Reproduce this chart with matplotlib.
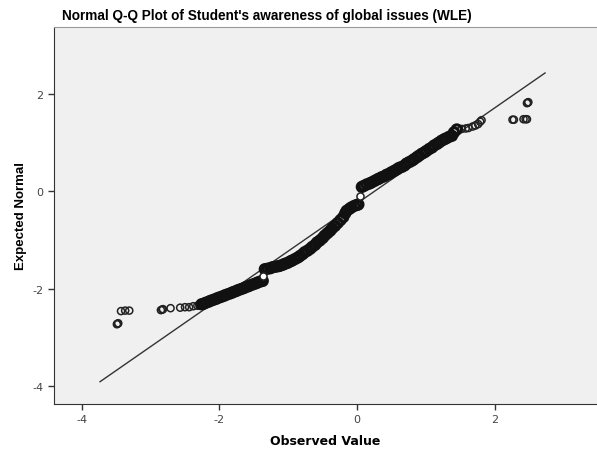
import matplotlib
matplotlib.use("Agg")
import matplotlib.pyplot as plt

plt.rcParams['axes.unicode_minus'] = False

left_obs = [-3.48, -3.49, -3.47, -3.43, -3.37, -3.31, -2.85, -2.83, -2.82, -2.71,
            -2.57, -2.50, -2.44, -2.38, -2.32, -2.29]
left_exp = [-2.72, -2.73, -2.71, -2.46, -2.45, -2.45, -2.44, -2.43, -2.42, -2.40,
            -2.39, -2.38, -2.38, -2.36, -2.35, -2.34]

low_obs = [-2.26, -2.23, -2.20, -2.16, -2.13, -2.09, -2.05, -2.02, -1.98, -1.94,
           -1.91, -1.87, -1.83, -1.80, -1.76, -1.73, -1.69, -1.65, -1.62, -1.58,
           -1.55, -1.51, -1.47, -1.44, -1.40, -1.37]
low_exp = [-2.32, -2.31, -2.29, -2.27, -2.25, -2.23, -2.21, -2.19, -2.17, -2.15,
           -2.13, -2.11, -2.09, -2.07, -2.05, -2.03, -2.01, -1.99, -1.97, -1.95,
           -1.93, -1.91, -1.89, -1.87, -1.85, -1.84]

mid_obs = [-1.34, -1.30, -1.26, -1.23, -1.19, -1.15, -1.12, -1.08, -1.05, -1.01,
           -0.97, -0.94, -0.90, -0.86, -0.83, -0.79, -0.76, -0.72, -0.68, -0.65,
           -0.61, -0.58, -0.54, -0.50, -0.47, -0.43, -0.39, -0.36, -0.32, -0.28,
           -0.24, -0.20, -0.17, -0.15, -0.11, -0.08, -0.04, 0.00, 0.02]
mid_exp = [-1.60, -1.59, -1.58, -1.56, -1.55, -1.54, -1.53, -1.51, -1.49, -1.47,
           -1.44, -1.42, -1.39, -1.36, -1.33, -1.29, -1.25, -1.22, -1.18, -1.14,
           -1.10, -1.05, -1.01, -0.96, -0.91, -0.86, -0.81, -0.76, -0.71, -0.65,
           -0.59, -0.53, -0.45, -0.40, -0.36, -0.33, -0.30, -0.28, -0.27]

up_obs = [0.07, 0.10, 0.14, 0.18, 0.21, 0.25, 0.29, 0.32, 0.36, 0.40,
          0.43, 0.47, 0.50, 0.54, 0.58, 0.61, 0.65, 0.69, 0.72, 0.76,
          0.80, 0.83, 0.87, 0.90, 0.94, 0.98, 1.01, 1.05, 1.09, 1.12,
          1.16, 1.19, 1.23, 1.27, 1.30, 1.34, 1.38, 1.41, 1.45]
up_exp = [0.09, 0.11, 0.14, 0.16, 0.18, 0.21, 0.24, 0.26, 0.29, 0.31,
          0.34, 0.36, 0.39, 0.42, 0.45, 0.48, 0.50, 0.53, 0.57, 0.60,
          0.63, 0.66, 0.70, 0.73, 0.77, 0.80, 0.83, 0.87, 0.90, 0.94,
          0.97, 1.00, 1.04, 1.07, 1.09, 1.12, 1.14, 1.21, 1.27]

right_obs = [1.52, 1.58, 1.62, 1.68, 1.72, 1.76, 1.79, 1.81,
             2.26, 2.28, 2.42, 2.45, 2.47, 2.48, 2.49, 2.47]
right_exp = [1.28, 1.29, 1.30, 1.33, 1.35, 1.38, 1.43, 1.46,
             1.47, 1.47, 1.48, 1.48, 1.48, 1.82, 1.83, 1.81]

# points sitting on the jumps (drawn white inside)
gap_obs = [-1.37, 0.05]
gap_exp = [-1.73, -0.09]

# reference line endpoints
line_obs = [-3.735, 2.733]
line_exp = [-3.91, 2.43]

fig = plt.figure(figsize=(5.97, 4.52), dpi=100)
ax = fig.add_axes([54 / 597, 47 / 452, 543 / 597, 377 / 452])
ax.set_facecolor('#f0f0f0')

ax.plot(line_obs, line_exp, color='#333333', linewidth=1.0, zorder=2)

# sparse tails: thin open circles
sparse_obs = left_obs + right_obs
sparse_exp = left_exp + right_exp
ax.scatter(sparse_obs, sparse_exp, s=26, facecolors='none', edgecolors='#222222',
           linewidths=1.1, zorder=3)

# dense middle: circles pile up into a solid band
dense_obs = low_obs + mid_obs + up_obs
dense_exp = low_exp + mid_exp + up_exp
ax.scatter(dense_obs, dense_exp, s=44, facecolors='none', edgecolors='#111111',
           linewidths=2.2, zorder=3)

ax.scatter(gap_obs, gap_exp, s=26, facecolors='white', edgecolors='#222222',
           linewidths=1.1, zorder=4)

ax.set_xlim(-4.404, 3.488)
ax.set_ylim(-4.368, 3.374)
ax.set_xticks([-4, -2, 0, 2])
ax.set_yticks([-4, -2, 0, 2])
ax.tick_params(direction='out', length=4, width=1, color='#333333',
               labelsize=8, labelcolor='#444444')

for side in ['left', 'bottom']:
    ax.spines[side].set_color('#333333')
ax.spines['top'].set_color('#999999')
ax.spines['right'].set_visible(False)

ax.set_xlabel('Observed Value', fontsize=9, fontweight='bold',
              family='DejaVu Sans', labelpad=7)
ax.set_ylabel('Expected Normal', fontsize=9.5, fontweight='bold',
              family='Liberation Sans', labelpad=4)
fig.text(62 / 597, 1 - 16 / 452, "Normal Q-Q Plot of Student's awareness of global issues (WLE)",
         fontsize=9.8, fontweight='bold', family='Liberation Sans', va='center', ha='left')

fig.savefig('out.png', dpi=100)
